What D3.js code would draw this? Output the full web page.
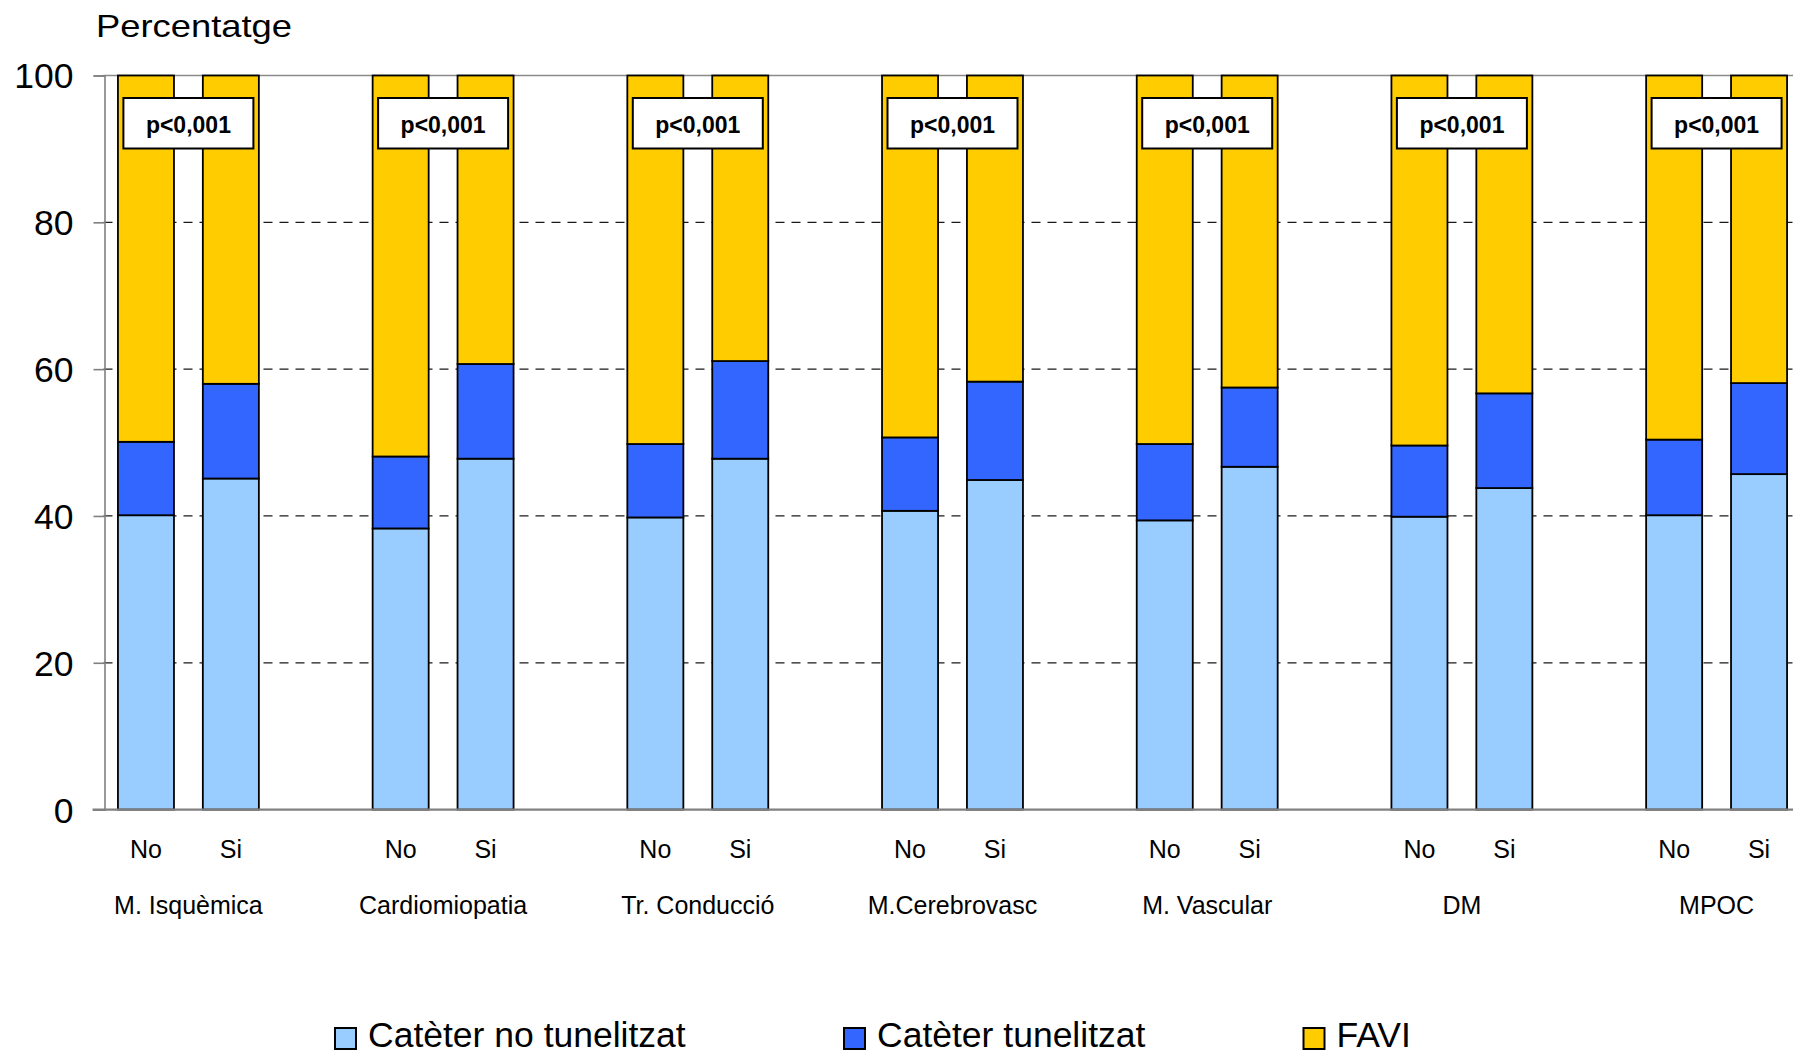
<!DOCTYPE html>
<html>
<head>
<meta charset="utf-8">
<script src="https://cdn.jsdelivr.net/npm/d3@7"></script>
<style>
  html, body { margin: 0; padding: 0; background: #fff; }
  svg { display: block; }
  text { font-family: "Liberation Sans", Arial, sans-serif; }
</style>
</head>
<body>
<svg id="chart" width="1793" height="1055"></svg>
<script>
// Comorbidity groups and the two bars drawn in each
const groups = ["M. Isquèmica", "Cardiomiopatia", "Tr. Conducció", "M.Cerebrovasc", "M. Vascular", "DM", "MPOC"];
const answers = ["No", "Si"];

// Percentages per bar, in order: group 1 No, group 1 Si, group 2 No, ...
const cateterNoTunelitzat = [40.1, 45.1, 38.3, 47.8, 39.8, 47.8, 40.7, 44.9, 39.4, 46.7, 39.9, 43.8, 40.1, 45.7];
const cateterTunelitzat   = [10.0, 12.9,  9.8, 12.9, 10.0, 13.3, 10.0, 13.4, 10.4, 10.8,  9.7, 12.9, 10.3, 12.4];
const favi                = [49.9, 42.0, 51.9, 39.3, 50.2, 38.9, 49.3, 41.7, 50.2, 42.5, 50.4, 43.3, 49.6, 41.9];

const pValues = ["p<0,001", "p<0,001", "p<0,001", "p<0,001", "p<0,001", "p<0,001", "p<0,001"];
const seriesNames = ["Catèter no tunelitzat", "Catèter tunelitzat", "FAVI"];
const seriesColors = ["#99CCFF", "#3366FF", "#FFCC00"];
const yTicks = [0, 20, 40, 60, 80, 100];
const yTitle = "Percentatge";

const svg = d3.select("#chart");

// ---- rows for the stack ----
const rows = [];
groups.forEach((g, gi) => {
  answers.forEach((a, ai) => {
    const i = gi * 2 + ai;
    rows.push({
      key: g + "|" + a, group: g, answer: a,
      [seriesNames[0]]: cateterNoTunelitzat[i],
      [seriesNames[1]]: cateterTunelitzat[i],
      [seriesNames[2]]: favi[i]
    });
  });
});

// category slots: No, Si, and an empty spacer slot between groups
const slots = [];
groups.forEach((g, gi) => {
  slots.push(g + "|No", g + "|Si");
  if (gi < groups.length - 1) slots.push("gap" + gi);
});

const plotLeft = 103.5, step = 84.9;
const x = d3.scaleBand()
  .domain(slots)
  .range([plotLeft, plotLeft + step * slots.length])
  .paddingInner(0.34)
  .paddingOuter(0.17);

const y = d3.scaleLinear().domain([0, 100]).range([809.6, 75.5]);

// ---- gridlines ----
const xEnd = 1793;
svg.append("g").selectAll("line")
  .data(yTicks.filter(t => t > 0 && t < 100))
  .join("line")
  .attr("x1", plotLeft).attr("x2", xEnd)
  .attr("y1", d => y(d)).attr("y2", d => y(d))
  .attr("stroke", "#1a1a1a").attr("stroke-width", 1.2)
  .attr("stroke-dasharray", "9,7");

// top border of the plot area
svg.append("line")
  .attr("x1", plotLeft).attr("x2", xEnd)
  .attr("y1", y(100)).attr("y2", y(100))
  .attr("stroke", "#8a8a8a").attr("stroke-width", 1.6);

// ---- stacked bars ----
const stack = d3.stack().keys(seriesNames);
const layers = stack(rows);

svg.append("g").selectAll("g")
  .data(layers)
  .join("g")
  .attr("fill", (d, i) => seriesColors[i])
  .selectAll("rect")
  .data(d => d)
  .join("rect")
  .attr("x", d => x(d.data.key))
  .attr("width", x.bandwidth())
  .attr("y", d => y(d[1]))
  .attr("height", d => y(d[0]) - y(d[1]))
  .attr("stroke", "#000")
  .attr("stroke-width", 1.8);

// ---- y axis ----
const yAxis = d3.axisLeft(y).tickValues(yTicks).tickSize(11).tickPadding(20).tickFormat(d3.format("d"));
const yg = svg.append("g").attr("transform", `translate(${plotLeft + 1},0)`).call(yAxis);
yg.select(".domain").attr("stroke", "#808080").attr("stroke-width", 1.6);
yg.selectAll(".tick line").attr("stroke", "#808080").attr("stroke-width", 1.6);
yg.selectAll(".tick text")
  .attr("font-size", 35.5).attr("fill", "#000")
  .attr("font-family", "'Liberation Sans', Arial, sans-serif")
  .attr("dy", "0.35em");

// x baseline
svg.append("line")
  .attr("x1", plotLeft - 11).attr("x2", xEnd)
  .attr("y1", y(0)).attr("y2", y(0))
  .attr("stroke", "#808080").attr("stroke-width", 2.2);

// ---- x labels ----
svg.append("g").selectAll("text")
  .data(rows)
  .join("text")
  .attr("x", d => x(d.key) + x.bandwidth() / 2)
  .attr("y", 858)
  .attr("text-anchor", "middle")
  .attr("font-size", 25)
  .text(d => d.answer);

const groupCenter = g => (x(g + "|No") + x(g + "|Si") + x.bandwidth()) / 2;

svg.append("g").selectAll("text")
  .data(groups)
  .join("text")
  .attr("x", d => groupCenter(d))
  .attr("y", 914)
  .attr("text-anchor", "middle")
  .attr("font-size", 25)
  .text(d => d);

// ---- significance boxes ----
const pg = svg.append("g").selectAll("g")
  .data(groups)
  .join("g")
  .attr("transform", d => `translate(${groupCenter(d)},0)`);
pg.append("rect")
  .attr("x", -65).attr("y", 98).attr("width", 130).attr("height", 50.5)
  .attr("fill", "#fff").attr("stroke", "#000").attr("stroke-width", 2);
pg.append("text")
  .attr("x", 0).attr("y", 133)
  .attr("text-anchor", "middle")
  .attr("font-size", 23).attr("font-weight", "bold")
  .text((d, i) => pValues[i]);

// ---- title ----
svg.append("text")
  .attr("x", 96).attr("y", 37)
  .attr("font-size", 32)
  .attr("textLength", 196).attr("lengthAdjust", "spacingAndGlyphs")
  .text(yTitle);

// ---- legend ----
const legendX = [335, 844, 1303.5];
const lg = svg.append("g").selectAll("g")
  .data(seriesNames)
  .join("g")
  .attr("transform", (d, i) => `translate(${legendX[i]},1028)`);
lg.append("rect")
  .attr("width", 21).attr("height", 21)
  .attr("fill", (d, i) => seriesColors[i])
  .attr("stroke", "#000").attr("stroke-width", 2);
lg.append("text")
  .attr("x", 33).attr("y", 19)
  .attr("font-size", 35.5)
  .text(d => d);
</script>
</body>
</html>
